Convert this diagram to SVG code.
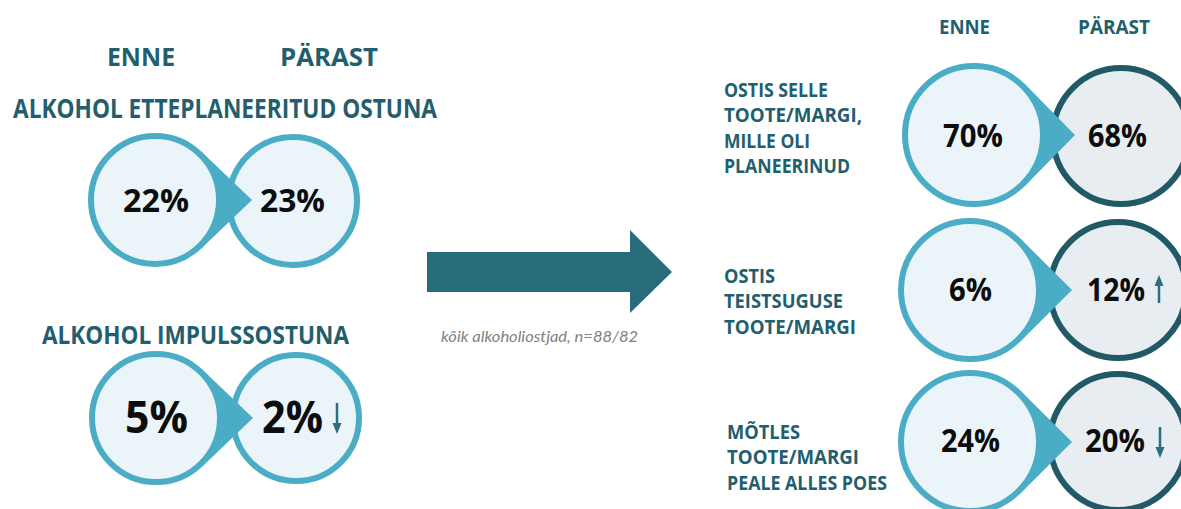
<svg xmlns="http://www.w3.org/2000/svg" width="1181" height="509" viewBox="0 0 1181 509">
<defs>
<style>
.hdr{font-family:"Open Sans",Lato,"Liberation Sans",sans-serif;font-weight:bold;fill:#225E6D}
.pct{font-family:"Open Sans",Lato,"Liberation Sans",sans-serif;font-weight:bold;fill:#0d0d0d}
.cap{font-family:Lato,"Open Sans","Liberation Sans",sans-serif;font-style:italic;fill:#808080}
.cin{fill:#EBF5F9;stroke:#4BACC6;stroke-width:6}
.cout{fill:#E7EDF0;stroke:#215967;stroke-width:6}
.cout2{fill:#EBF5F9;stroke:#4BACC6;stroke-width:6}
.tip{fill:#4BACC6}
.trend{stroke:#2A6E7F;stroke-width:2.5;fill:none}
.trendh{fill:#2A6E7F}
</style>
</defs>
<rect width="1181" height="509" fill="#ffffff"/>

<g id="left-headers">
<text class="hdr" x="107" y="66" font-size="25" textLength="68" lengthAdjust="spacingAndGlyphs">ENNE</text>
<text class="hdr" x="280" y="66" font-size="25" textLength="98" lengthAdjust="spacingAndGlyphs">PÄRAST</text>
<text class="hdr" x="13" y="118" font-size="26" textLength="424" lengthAdjust="spacingAndGlyphs">ALKOHOL ETTEPLANEERITUD OSTUNA</text>
<text class="hdr" x="42" y="344" font-size="25" textLength="307" lengthAdjust="spacingAndGlyphs">ALKOHOL IMPULSSOSTUNA</text>
</g>

<g id="pair-planned-left">
<circle class="cout2" cx="293" cy="201" r="64"/>
<polygon class="tip" points="155,200 201.3,151.6 252,200 201.3,248.4"/>
<circle class="cin" cx="155" cy="200" r="64"/>
<text class="pct" x="123" y="212" font-size="33" textLength="66" lengthAdjust="spacingAndGlyphs">22%</text>
<text class="pct" x="260" y="212" font-size="33" textLength="65" lengthAdjust="spacingAndGlyphs">23%</text>
</g>

<g id="pair-impulse-left">
<circle class="cout2" cx="296" cy="418" r="63"/>
<polygon class="tip" points="156,418 202.3,369.6 253,418 202.3,466.4"/>
<circle class="cin" cx="156" cy="418" r="64"/>
<text class="pct" x="125" y="433" font-size="45" textLength="63" lengthAdjust="spacingAndGlyphs">5%</text>
<text class="pct" x="262" y="433" font-size="45" textLength="61" lengthAdjust="spacingAndGlyphs">2%</text>
<line class="trend" x1="337" y1="403" x2="337" y2="425"/>
<polygon class="trendh" points="332.5,423 341.5,423 337,434"/>
</g>

<g id="connectors">
<polygon fill="#286B7B" points="427,252 630,252 630,230 672,272 630,313 630,292 427,292"/>
</g>
<text class="cap" x="441" y="342" font-size="15" textLength="197" lengthAdjust="spacingAndGlyphs">kõik alkoholiostjad, n=88/82</text>

<g id="right-headers">
<text class="hdr" x="939" y="34" font-size="20" textLength="51" lengthAdjust="spacingAndGlyphs">ENNE</text>
<text class="hdr" x="1078" y="34" font-size="20" textLength="72" lengthAdjust="spacingAndGlyphs">PÄRAST</text>
</g>

<g id="pair-bought-planned">
<text class="hdr" font-size="19"><tspan x="724" y="97" textLength="104" lengthAdjust="spacingAndGlyphs">OSTIS SELLE</tspan><tspan x="724" y="122" textLength="138" lengthAdjust="spacingAndGlyphs">TOOTE/MARGI,</tspan><tspan x="724" y="148" textLength="86" lengthAdjust="spacingAndGlyphs">MILLE OLI</tspan><tspan x="724" y="173" textLength="126" lengthAdjust="spacingAndGlyphs">PLANEERINUD</tspan></text>
<circle class="cout" cx="1121" cy="136" r="68"/>
<polygon class="tip" points="974,135 1025.3,84.5 1075,135 1025.3,185.5"/>
<circle class="cin" cx="974" cy="135" r="69"/>
<text class="pct" x="943" y="147" font-size="32" textLength="60" lengthAdjust="spacingAndGlyphs">70%</text>
<text class="pct" x="1088" y="147" font-size="32" textLength="59" lengthAdjust="spacingAndGlyphs">68%</text>
</g>

<g id="pair-bought-other">
<text class="hdr" font-size="19"><tspan x="724" y="283" textLength="51" lengthAdjust="spacingAndGlyphs">OSTIS</tspan><tspan x="724" y="308" textLength="119" lengthAdjust="spacingAndGlyphs">TEISTSUGUSE</tspan><tspan x="724" y="334" textLength="132" lengthAdjust="spacingAndGlyphs">TOOTE/MARGI</tspan></text>
<circle class="cout" cx="1118" cy="290" r="68"/>
<polygon class="tip" points="970,290 1020.8,239 1072,290 1020.8,341"/>
<circle class="cin" cx="970" cy="290" r="69"/>
<text class="pct" x="949" y="301" font-size="32" textLength="43" lengthAdjust="spacingAndGlyphs">6%</text>
<text class="pct" x="1087" y="301" font-size="32" textLength="58" lengthAdjust="spacingAndGlyphs">12%</text>
<line class="trend" x1="1159" y1="284" x2="1159" y2="303"/>
<polygon class="trendh" points="1154.5,286 1163.5,286 1159,275"/>
</g>

<g id="pair-decided-in-store">
<text class="hdr" font-size="19"><tspan x="727" y="439" textLength="73" lengthAdjust="spacingAndGlyphs">MÕTLES</tspan><tspan x="727" y="464" textLength="132" lengthAdjust="spacingAndGlyphs">TOOTE/MARGI</tspan><tspan x="727" y="490" textLength="160" lengthAdjust="spacingAndGlyphs">PEALE ALLES POES</tspan></text>
<circle class="cout" cx="1118" cy="442" r="68"/>
<polygon class="tip" points="970,442 1020.8,391 1072,442 1020.8,493"/>
<circle class="cin" cx="970" cy="442" r="69"/>
<text class="pct" x="941" y="452" font-size="32" textLength="59" lengthAdjust="spacingAndGlyphs">24%</text>
<text class="pct" x="1085" y="452" font-size="32" textLength="60" lengthAdjust="spacingAndGlyphs">20%</text>
<line class="trend" x1="1160" y1="427" x2="1160" y2="449"/>
<polygon class="trendh" points="1155.5,447 1164.5,447 1160,458"/>
</g>
</svg>
